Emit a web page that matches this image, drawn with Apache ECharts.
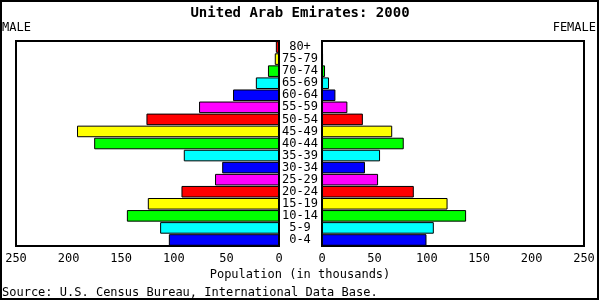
<!DOCTYPE html>
<html><head><meta charset="utf-8">
<script src="https://cdn.jsdelivr.net/npm/echarts@6/dist/echarts.min.js"></script>
<style>html,body{margin:0;padding:0;background:#fff}#c{width:600px;height:301px}</style>
</head><body><div id="c"></div>
<script>
var ages = ['0-4','5-9','10-14','15-19','20-24','25-29','30-34','35-39','40-44','45-49','50-54','55-59','60-64','65-69','70-74','75-79','80+'];
var male = [104.7,113,144.6,124.7,92.7,60.8,54,90.5,175.7,192,126,76,43.7,22,10.5,4,3];
var female = [99.7,106.7,137.5,119.8,87.6,53.5,41,55.4,78,67,39,24.2,12.8,6.7,2.9,1,0.5];
var barColors = ['#0000ff','#00ffff','#00ff00','#ffff00','#ff0000','#ff00ff'];
var titleText = 'United Arab Emirates: 2000';
var xAxisName = 'Population (in thousands)';
var sourceText = 'Source: U.S. Census Bureau, International Data Base.';

var mono = '"DejaVu Sans Mono", monospace';
var chart = echarts.init(document.getElementById('c'), null, {renderer:'canvas'});
function colorFn(p){ return barColors[p.dataIndex % barColors.length]; }
var xCommon = {type:'value', min:0, max:250, interval:50,
  axisLine:{show:false}, axisTick:{show:false}, splitLine:{show:false},
  axisLabel:{fontFamily:mono, fontSize:12, color:'#000', margin:7}};
chart.setOption({
  animation:false,
  backgroundColor:'#fff',
  title:{text:titleText, left:'center', top:1, textStyle:{fontFamily:mono, fontSize:14, fontWeight:'bold', color:'#000'}},
  grid:[
    {left:16, right:321, top:41, bottom:55, show:true, borderColor:'#000', borderWidth:2, backgroundColor:'transparent'},
    {left:322, right:16, top:41, bottom:55, show:true, borderColor:'#000', borderWidth:2, backgroundColor:'transparent'}
  ],
  xAxis:[
    Object.assign({gridIndex:0, inverse:true}, xCommon),
    Object.assign({gridIndex:1}, xCommon)
  ],
  yAxis:[
    {type:'category', gridIndex:0, data:ages, position:'right', axisLine:{show:false}, axisTick:{show:false},
     axisLabel:{interval:0, fontFamily:mono, fontSize:12, lineHeight:12, color:'#000', align:'center', margin:21}},
    {type:'category', gridIndex:1, data:ages, axisLine:{show:false}, axisTick:{show:false}, axisLabel:{show:false}}
  ],
  series:[
    {type:'bar', xAxisIndex:0, yAxisIndex:0, data:male, barCategoryGap:'4%',
     itemStyle:{color:colorFn, borderColor:'#000', borderWidth:1}},
    {type:'bar', xAxisIndex:1, yAxisIndex:1, data:female, barCategoryGap:'4%',
     itemStyle:{color:colorFn, borderColor:'#000', borderWidth:1}}
  ],
  graphic:[
    {type:'rect', shape:{x:1, y:1, width:597, height:298}, style:{fill:'none', stroke:'#000', lineWidth:2}, silent:true},
    {type:'text', left:2, top:22, style:{text:'MALE', font:'12px '+mono, fill:'#000'}},
    {type:'text', right:4, top:22, style:{text:'FEMALE', font:'12px '+mono, fill:'#000'}},
    {type:'text', left:'center', top:269, style:{text:xAxisName, font:'12px '+mono, fill:'#000'}},
    {type:'text', left:2, top:287, style:{text:sourceText, font:'12px '+mono, fill:'#000'}}
  ]
});
</script></body></html>
